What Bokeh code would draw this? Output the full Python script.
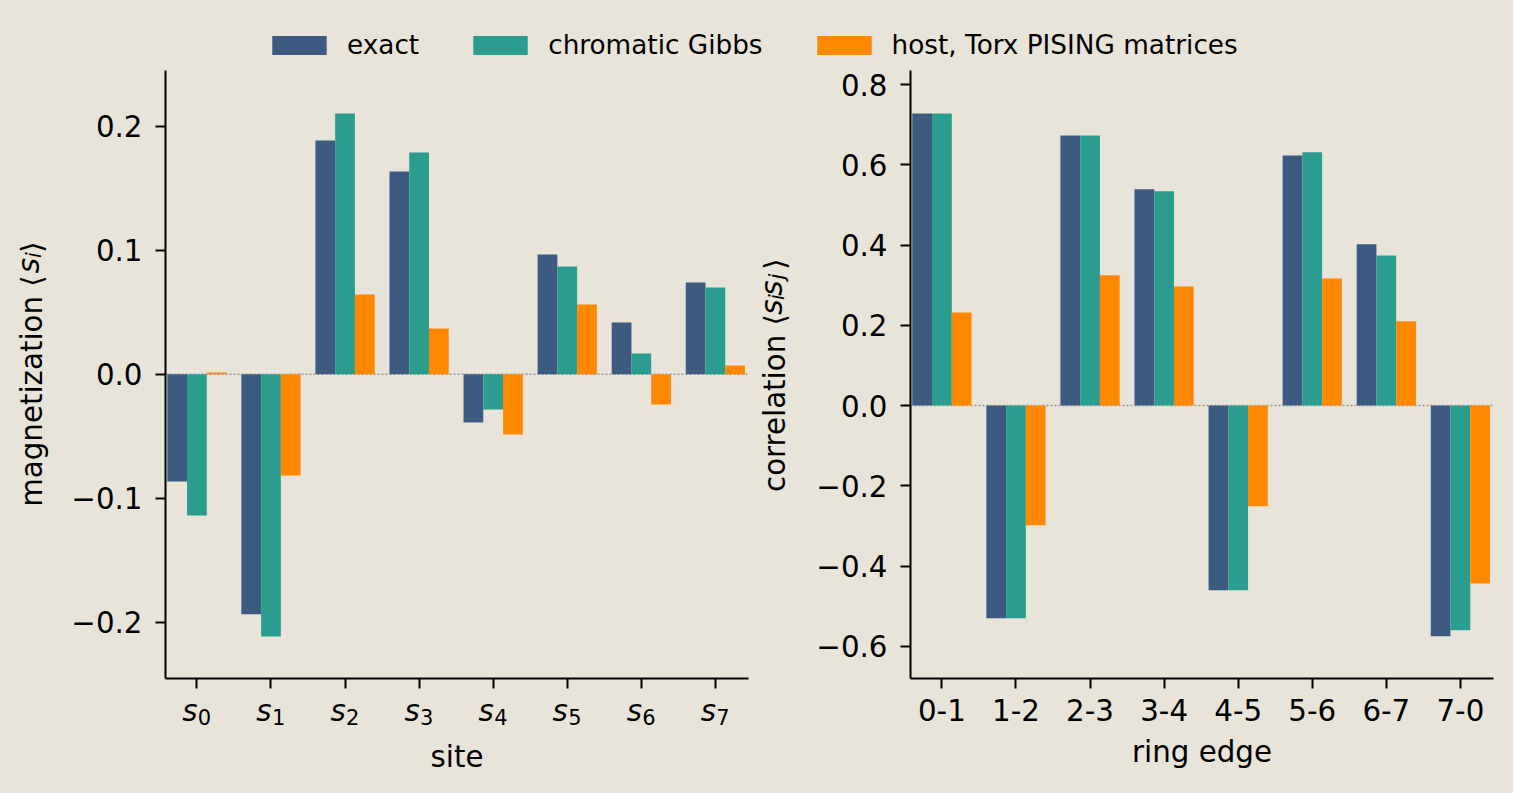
import numpy as np
from bokeh.plotting import figure
from bokeh.layouts import column, row
from bokeh.models import (Range1d, FixedTicker, CustomJSTickFormatter, Span,
                          Legend, LegendItem, LinearAxis)
from bokeh.embed import file_html
from bokeh.resources import INLINE

# ---------------- data ----------------
series_names = ["exact", "chromatic Gibbs", "host, Torx PISING matrices"]
colors = ["#3d5a80", "#2a9d8f", "#ff8800"]

site_symbol = "s"
site_index = ["0", "1", "2", "3", "4", "5", "6", "7"]   # ticks read s_0 ... s_7
mag_exact = [-0.0865, -0.1935, 0.1885, 0.1635, -0.0390, 0.0965, 0.0417, 0.0740]
mag_gibbs = [-0.1140, -0.2115, 0.2102, 0.1788, -0.0285, 0.0868, 0.0167, 0.0700]
mag_host = [0.0014, -0.0817, 0.0643, 0.0369, -0.0486, 0.0562, -0.0244, 0.0070]

edges = ["0-1", "1-2", "2-3", "3-4", "4-5", "5-6", "6-7", "7-0"]
cor_exact = [0.728, -0.530, 0.673, 0.539, -0.460, 0.623, 0.402, -0.575]
cor_gibbs = [0.728, -0.530, 0.673, 0.534, -0.460, 0.631, 0.374, -0.560]
cor_host = [0.232, -0.298, 0.3245, 0.297, -0.251, 0.317, 0.210, -0.443]

mag_ticks = [-0.2, -0.1, 0.0, 0.1, 0.2]
cor_ticks = [-0.6, -0.4, -0.2, 0.0, 0.2, 0.4, 0.6, 0.8]

BG = "#e8e4da"
FONT = "DejaVu Sans"
FS = "29.3px"
SUB = "21px"
BAR_W = 0.8 / 3
X0, X1 = -0.424, 7.447
FRAME_TOP, FRAME_BOTTOM = 70, 678   # page pixels of the plotting frames

fmt = CustomJSTickFormatter(code="return tick.toFixed(1).replace('-', '\u2212');")


def style_axis(ax):
    ax.axis_line_width = 2
    ax.axis_line_color = "black"
    ax.major_tick_line_width = 2
    ax.major_tick_out = 10
    ax.major_tick_in = 0
    ax.minor_tick_line_color = None
    ax.major_label_text_font = FONT
    ax.major_label_text_font_size = FS
    ax.major_label_text_color = "black"
    ax.axis_label_text_font = FONT
    ax.axis_label_text_font_size = FS
    ax.axis_label_text_font_style = "normal"
    ax.axis_label_text_color = "black"


def text_axis(ax, size=FS, italic=False, standoff=0):
    style_axis(ax)
    ax.axis_line_color = None
    ax.major_tick_line_color = None
    ax.major_tick_out = 0
    ax.major_label_text_font_size = size
    ax.major_label_text_font_style = "italic" if italic else "normal"
    ax.major_label_standoff = standoff
    return ax


def ylabel_axes(p, pieces, s_main):
    """Rotated y-axis title built from label-only axes (upright / italic / subscript)."""
    p.extra_y_ranges = {"page": Range1d(FRAME_BOTTOM, FRAME_TOP)}
    groups = [("up", FS, False, s_main), ("it", FS, True, -34), ("sub", SUB, True, -37)]
    for kind, size, italic, so in groups:
        sel = [(t, y) for t, y, k in pieces if k == kind]
        ax = LinearAxis(y_range_name="page", ticker=FixedTicker(ticks=[y for _, y in sel]),
                        major_label_overrides={y: t for t, y in sel})
        text_axis(ax, size, italic, so)
        ax.major_label_orientation = "vertical"
        p.add_layout(ax, "left")


def panel(n, vals, ylo, yhi, yticks, width, mbl, mbr):
    p = figure(width=width, height=723, output_backend="svg", toolbar_location=None,
               x_range=Range1d(X0, X1), y_range=Range1d(ylo, yhi),
               min_border_left=mbl, min_border_right=mbr, min_border_top=0,
               min_border_bottom=115)
    p.background_fill_color = BG
    p.border_fill_color = BG
    p.outline_line_color = None
    p.grid.visible = False
    zero = Span(location=0, dimension="width", line_color="#999999",
                line_width=1.5, line_dash="2 2", level="underlay")
    p.add_layout(zero)
    idx = np.arange(n)
    for k, (v, c) in enumerate(zip(vals, colors)):
        p.vbar(x=idx + (k - 1) * BAR_W, top=v, bottom=0, width=BAR_W,
               fill_color=c, line_color=None)
    p.xaxis.ticker = FixedTicker(ticks=list(range(n)))
    p.yaxis.ticker = FixedTicker(ticks=yticks)
    p.yaxis.formatter = fmt
    style_axis(p.xaxis[0])
    style_axis(p.yaxis[0])
    p.xaxis.major_label_standoff = 10
    p.xaxis.axis_label_standoff = 11
    p.yaxis.major_label_standoff = 13
    return p


# ---------- left panel: magnetization ----------
n_sites = len(site_index)
p1 = panel(n_sites, [mag_exact, mag_gibbs, mag_host], -0.2454, 0.2449,
           mag_ticks, 750, 165, 2)
p1.xaxis.major_label_overrides = {i: "" for i in range(n_sites)}
p1.xaxis.major_label_text_font_size = "1px"
p1.xaxis.major_label_standoff = 0
p1.extra_x_ranges = {"sym": Range1d(X0 + 0.095, X1 + 0.095),
                     "idx": Range1d(X0 - 0.103, X1 - 0.103)}
ax_s = LinearAxis(x_range_name="sym", ticker=FixedTicker(ticks=list(range(n_sites))),
                  major_label_overrides={i: site_symbol for i in range(n_sites)})
ax_i = LinearAxis(x_range_name="idx", ticker=FixedTicker(ticks=list(range(n_sites))),
                  major_label_overrides={i: d for i, d in enumerate(site_index)},
                  axis_label="site")
text_axis(ax_s, FS, True, 5)
text_axis(ax_i, SUB, False, -22)
ax_i.axis_label_standoff = 12
p1.add_layout(ax_s, "below")
p1.add_layout(ax_i, "below")
ylabel_axes(p1, [("magnetization \u27e8", 390.5, "up"), ("\u27e9", 246.5, "up"),
                 ("s", 265.0, "it"), ("i", 254.5, "sub")], 20)

# ---------- right panel: correlation ----------
p2 = panel(len(edges), [cor_exact, cor_gibbs, cor_host], -0.680, 0.835,
           cor_ticks, 763, 160, 20)
p2.xaxis.major_label_overrides = {i: s for i, s in enumerate(edges)}
p2.xaxis.axis_label = "ring edge"
ylabel_axes(p2, [("correlation \u27e8", 402.5, "up"), ("\u27e9", 263.5, "up"),
                 ("s", 306.5, "it"), ("s", 287.5, "it"),
                 ("i", 296.5, "sub"), ("j", 276.0, "sub")], 22)

# ---------- legend strip ----------
lf = figure(width=1513, height=70, output_backend="svg", toolbar_location=None,
            x_range=Range1d(0, 1), y_range=Range1d(0, 1), min_border=0)
lf.axis.visible = False
lf.grid.visible = False
lf.outline_line_color = None
lf.background_fill_color = BG
lf.border_fill_color = BG
items = []
for name, c in zip(series_names, colors):
    r = lf.vbar(x=[-10], top=[0], width=0.1, fill_color=c, line_color=None)
    items.append(LegendItem(label=name, renderers=[r]))
leg = Legend(items=items, orientation="horizontal", location=(265, 10),
             glyph_width=68, glyph_height=24, label_standoff=14, spacing=47,
             padding=0, margin=0, background_fill_alpha=0, border_line_color=None,
             label_text_font=FONT, label_text_font_size="26.3px",
             label_text_color="black", label_height=24)
lf.add_layout(leg, "center")

layout = column(lf, row(p1, p2, styles={"background-color": BG}),
                styles={"background-color": BG})
open("out.html", "w").write(file_html(layout, INLINE))
